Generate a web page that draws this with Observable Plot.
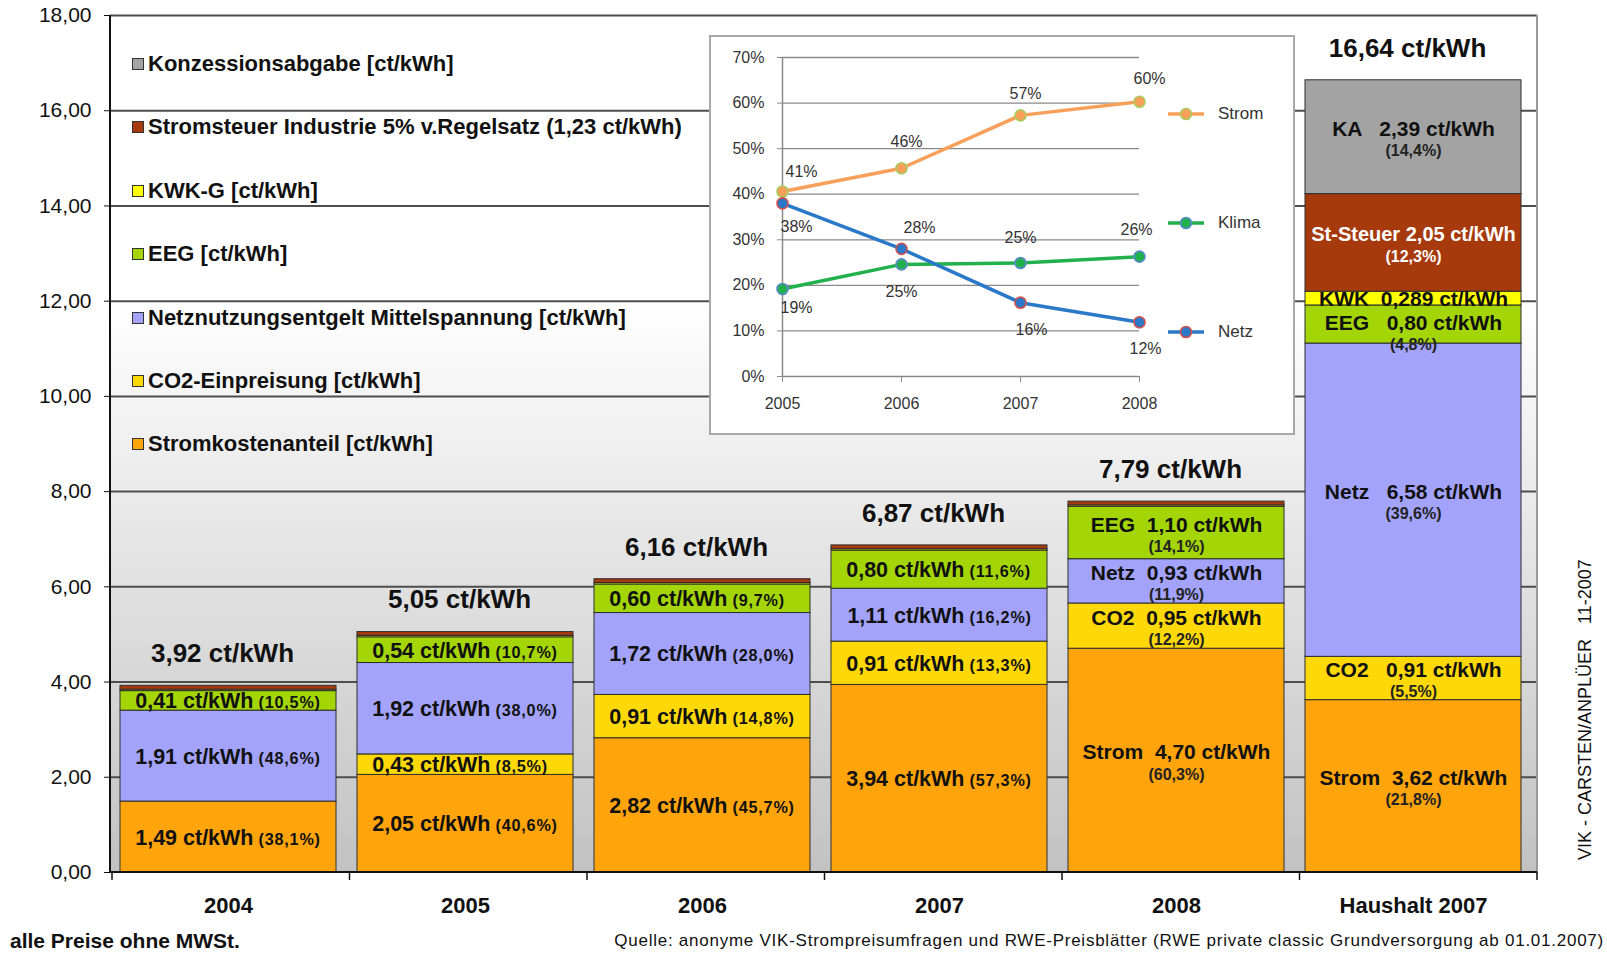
<!DOCTYPE html>
<html>
<head>
<meta charset="utf-8">
<script src="https://cdn.jsdelivr.net/npm/d3@7"></script>
<script src="https://cdn.jsdelivr.net/npm/@observablehq/plot@0.6"></script>
<style>
  body { margin: 0; background: #fff; font-family: "Liberation Sans", Arial, sans-serif; }
  #wrap { position: relative; width: 1607px; height: 954px; overflow: hidden; background: #fff; }
  #wrap svg text { white-space: pre; }
  #wrap svg g[font-size="16.2"] { letter-spacing: 0.8px; }
  .legend { position: absolute; left: 132px; top: 0; }
  .legend .row { position: absolute; left: 0; height: 24px; display: flex; align-items: center; white-space: nowrap;
    font-weight: bold; font-size: 22px; color: #111; }
  .legend .box { width: 10px; height: 10px; border: 1px solid #333; margin-right: 4px; }
  #inset { position: absolute; left: 709px; top: 35px; width: 586px; height: 400px; box-sizing: border-box;
    border: 2px solid #a9a9a9; background: #fff; }
  #inset .lg { position: absolute; display: flex; align-items: center; font-size: 17px; color: #333; }
  .cap { position: absolute; white-space: nowrap; color: #111; }
</style>
</head>
<body>
<div id="wrap"></div>
<script>
// ---------- data ----------
const categories = ["2004", "2005", "2006", "2007", "2008", "Haushalt 2007"];
const components = ["Strom", "CO2", "Netz", "EEG", "KWK", "Stromsteuer", "KA"];
const strom       = [1.49, 2.05, 2.82, 3.94, 4.70, 3.62];
const co2         = [0.00, 0.43, 0.91, 0.91, 0.95, 0.91];
const netz        = [1.91, 1.92, 1.72, 1.11, 0.93, 6.58];
const eeg         = [0.41, 0.54, 0.60, 0.80, 1.10, 0.80];
const kwk         = [0.03, 0.03, 0.03, 0.03, 0.03, 0.289];
const stromsteuer = [0.08, 0.08, 0.08, 0.08, 0.08, 2.05];
const ka          = [0.00, 0.00, 0.00, 0.00, 0.00, 2.39];
const totals      = [3.92, 5.05, 6.16, 6.87, 7.79, 16.64];
const shareStrom  = ["38,1%", "40,6%", "45,7%", "57,3%", "60,3%", "21,8%"];
const shareCo2    = [null, "8,5%", "14,8%", "13,3%", "12,2%", "5,5%"];
const shareNetz   = ["48,6%", "38,0%", "28,0%", "16,2%", "11,9%", "39,6%"];
const shareEeg    = ["10,5%", "10,7%", "9,7%", "11,6%", "14,1%", "4,8%"];
const shareKwk    = [null, null, null, null, null, null];
const shareStSt   = [null, null, null, null, null, "12,3%"];
const shareKa     = [null, null, null, null, null, "14,4%"];
const shortNames  = ["Strom", "CO2", "Netz", "EEG", "KWK", "St-Steuer", "KA"];
const legendLabels = [
  "Konzessionsabgabe [ct/kWh]",
  "Stromsteuer Industrie 5% v.Regelsatz (1,23 ct/kWh)",
  "KWK-G [ct/kWh]",
  "EEG [ct/kWh]",
  "Netznutzungsentgelt Mittelspannung [ct/kWh]",
  "CO2-Einpreisung [ct/kWh]",
  "Stromkostenanteil [ct/kWh]"
];
const yTicks = [0, 2, 4, 6, 8, 10, 12, 14, 16, 18];

const insetYears = [2005, 2006, 2007, 2008];
const insetStrom = [40.6, 45.7, 57.3, 60.3];
const insetKlima = [19.2, 24.6, 24.9, 26.3];
const insetNetz  = [38.0, 28.0, 16.2, 11.9];
const insetTicks = [0, 10, 20, 30, 40, 50, 60, 70];

// ---------- styles ----------
const colors = ["#FFA40B", "#FFD808", "#A3A3FC", "#A4D507", "#FFFF00", "#A63A0C", "#A3A3A3"];
const FONT = "Liberation Sans, Arial, sans-serif";
const fmtNum = v => v.toFixed(Math.round(v * 1000) % 10 ? 3 : 2).replace(".", ",");

// ---------- derived tables ----------
const series = {Strom: strom, CO2: co2, Netz: netz, EEG: eeg, KWK: kwk, Stromsteuer: stromsteuer, KA: ka};
const shares = {Strom: shareStrom, CO2: shareCo2, Netz: shareNetz, EEG: shareEeg, KWK: shareKwk, Stromsteuer: shareStSt, KA: shareKa};
const rows = [];
const segs = [];
categories.forEach((cat, i) => {
  let acc = 0;
  components.forEach((comp, j) => {
    const v = series[comp][i];
    if (v > 0) rows.push({cat, comp, value: v});
    segs.push({cat, i, comp, name: shortNames[j], value: v, mid: acc + v / 2, share: shares[comp][i]});
    acc += v;
  });
});
const labeled = segs.filter(d => d.value >= 0.25);
const single = labeled.filter(d => d.i < 4);
const double = labeled.filter(d => d.i >= 4);
const thin = d => d.value < 0.9;
const gap = d => d.comp === "Stromsteuer" ? " " : (d.i === 5 && d.comp !== "Strom" && d.comp !== "KWK" ? "   " : "  ");
const line1 = d => d.name + gap(d) + fmtNum(d.value) + " ct/kWh";
const totalRows = categories.map((cat, i) => ({cat, total: totals[i]}));

// ---------- custom render marks ----------
function background(index, scales, values, dims) {
  const g = d3.create("svg:g");
  const lg = g.append("defs").append("linearGradient").attr("id", "bgGrad")
    .attr("x1", 0).attr("y1", 0).attr("x2", 0).attr("y2", 1);
  lg.append("stop").attr("offset", "0").attr("stop-color", "#ffffff");
  lg.append("stop").attr("offset", "0.33").attr("stop-color", "#ffffff");
  lg.append("stop").attr("offset", "1").attr("stop-color", "#c2c2c2");
  g.append("rect")
    .attr("x", dims.marginLeft).attr("y", dims.marginTop)
    .attr("width", dims.width - dims.marginLeft - dims.marginRight)
    .attr("height", dims.height - dims.marginTop - dims.marginBottom)
    .attr("fill", "url(#bgGrad)");
  return g.node();
}
function frameDecor(index, scales, values, dims) {
  const g = d3.create("svg:g");
  const left = dims.marginLeft, right = dims.width - dims.marginRight;
  const top = dims.marginTop, bottom = dims.height - dims.marginBottom;
  const n = categories.length;
  const bounds = d3.range(n + 1).map(i => left + 2 + i * (right - left - 2) / n);
  g.append("line").attr("x1", right).attr("x2", right).attr("y1", top).attr("y2", bottom)
    .attr("stroke", "#9a9a9a").attr("stroke-width", 2);
  g.append("line").attr("x1", left).attr("x2", left).attr("y1", top).attr("y2", bottom + 1)
    .attr("stroke", "#111").attr("stroke-width", 2);
  g.append("line").attr("x1", left).attr("x2", right).attr("y1", bottom).attr("y2", bottom)
    .attr("stroke", "#111").attr("stroke-width", 2);
  bounds.forEach(b => g.append("line").attr("x1", b).attr("x2", b).attr("y1", bottom).attr("y2", bottom + 8)
    .attr("stroke", "#111").attr("stroke-width", 1.5));
  return g.node();
}

// ---------- main chart ----------
const main = Plot.plot({
  width: 1607, height: 925,
  marginTop: 15, marginBottom: 53, marginLeft: 110, marginRight: 70,
  x: {domain: categories, paddingInner: 0.09, paddingOuter: 0.045, align: 0.38, label: null},
  y: {domain: [0, 18], label: null},
  color: {domain: components, range: colors},
  style: {fontFamily: FONT, fontSize: "20px", color: "#111", background: "transparent", overflow: "visible"},
  marks: [
    background,
    Plot.gridY(yTicks.slice(1), {stroke: "#4e4e4e", strokeOpacity: 1, strokeWidth: 2}),
    Plot.barY(rows, {x: "cat", y: "value", fill: "comp", order: components, stroke: "#2e2e2e", strokeWidth: 1}),
    frameDecor,
    Plot.axisY(yTicks, {tickFormat: d => d.toFixed(2).replace(".", ","), tickSize: 6, tickPadding: 13,
      fontSize: 21, stroke: "#111"}),
    Plot.axisX({tickSize: 0, tickPadding: 25, fontSize: 22, fontWeight: "bold"}),
    // totals
    Plot.text(totalRows, {x: "cat", y: "total", text: d => fmtNum(d.total) + " ct/kWh", dx: -6, dy: -32,
      fontSize: 26, fontWeight: "bold", fill: "#111"}),
    // single-line segment labels
    Plot.text(single, {x: "cat", y: "mid", text: d => fmtNum(d.value) + " ct/kWh", textAnchor: "end",
      lineAnchor: "bottom", dx: 25, dy: 7.5, fontSize: 21.5, fontWeight: "bold", fill: "#111"}),
    Plot.text(single.filter(d => d.share), {x: "cat", y: "mid", text: d => "(" + d.share + ")", textAnchor: "start",
      lineAnchor: "bottom", dx: 30, dy: 7.5, fontSize: 16.2, fontWeight: "bold", fill: "#111"}),
    // two-line segment labels
    Plot.text(double.filter(d => d.share && d.comp !== "Stromsteuer" && !thin(d)), {x: "cat", y: "mid", text: line1,
      lineAnchor: "bottom", dy: -1.5, fontSize: 21, fontWeight: "bold", fill: "#111"}),
    Plot.text(double.filter(d => d.share && thin(d)), {x: "cat", y: "mid", text: line1,
      lineAnchor: "bottom", dy: 6, fontSize: 21, fontWeight: "bold", fill: "#111"}),
    Plot.text(double.filter(d => d.comp === "Stromsteuer"), {x: "cat", y: "mid", text: line1,
      lineAnchor: "bottom", dy: -1.5, fontSize: 20, fontWeight: "bold", fill: "#fff"}),
    Plot.text(double.filter(d => !d.share), {x: "cat", y: "mid", text: line1,
      lineAnchor: "bottom", dy: 7.5, fontSize: 21, fontWeight: "bold", fill: "#111"}),
    Plot.text(double.filter(d => d.share && d.comp !== "Stromsteuer" && !thin(d)), {x: "cat", y: "mid", text: d => "(" + d.share + ")",
      lineAnchor: "bottom", dy: 19, fontSize: 16, fontWeight: "bold", fill: "#222"}),
    Plot.text(double.filter(d => d.share && thin(d)), {x: "cat", y: "mid", text: d => "(" + d.share + ")",
      lineAnchor: "bottom", dy: 26, fontSize: 16, fontWeight: "bold", fill: "#222"}),
    Plot.text(double.filter(d => d.comp === "Stromsteuer"), {x: "cat", y: "mid", text: d => "(" + d.share + ")",
      lineAnchor: "bottom", dy: 19, fontSize: 16, fontWeight: "bold", fill: "#fff"})
  ]
});

const wrap = document.getElementById("wrap");
wrap.appendChild(main);

// ---------- legend (inside plot area) ----------
const legend = document.createElement("div");
legend.className = "legend";
const legendColors = components.slice().reverse().map(c => colors[components.indexOf(c)]);
legendLabels.forEach((label, i) => {
  const row = document.createElement("div");
  row.className = "row";
  row.style.top = (52 + i * 63.4) + "px";
  const box = document.createElement("span");
  box.className = "box";
  box.style.background = legendColors[i];
  row.appendChild(box);
  row.appendChild(document.createTextNode(label));
  legend.appendChild(row);
});
wrap.appendChild(legend);

// ---------- inset ----------
const insetSeries = [
  {name: "Strom", values: insetStrom, line: "#F8A05A", fill: "#F8A05A", ring: "#A9CB5E",
   offsets: [[19, -20], [5, -26], [5, -22], [10, -23]]},
  {name: "Klima", values: insetKlima, line: "#22B04C", fill: "#22B04C", ring: "#5B8BCB",
   offsets: [[14, 19], [0, 27], [0, -25], [-3, -27]]},
  {name: "Netz", values: insetNetz, line: "#2A78C8", fill: "#2A78C8", ring: "#D0504D",
   offsets: [[14, 24], [18, -21], [11, 27], [6, 27]]}
];
const insetMarks = [];
insetSeries.forEach(s => {
  const data = insetYears.map((year, i) => ({year, value: s.values[i]}));
  insetMarks.push(Plot.line(data, {x: "year", y: "value", stroke: s.line, strokeWidth: 3.5}));
});
insetSeries.forEach(s => {
  const data = insetYears.map((year, i) => ({year, value: s.values[i]}));
  insetMarks.push(Plot.dot(data, {x: "year", y: "value", r: 5.5, fill: s.fill, stroke: s.ring, strokeWidth: 1.6}));
  data.forEach((d, i) => insetMarks.push(
    Plot.text([d], {x: "year", y: "value", text: v => Math.round(v.value) + "%", dx: s.offsets[i][0], dy: s.offsets[i][1],
      fontSize: 16, fill: "#333"})));
});
const inset = Plot.plot({
  width: 582, height: 396,
  marginLeft: 71, marginRight: 154, marginTop: 20, marginBottom: 57,
  x: {domain: [insetYears[0], insetYears[insetYears.length - 1]], label: null},
  y: {domain: [0, 70], label: null},
  style: {fontFamily: FONT, fontSize: "16px", color: "#333", background: "transparent", overflow: "visible"},
  marks: [
    Plot.gridY(insetTicks.slice(1), {stroke: "#8a8a8a", strokeOpacity: 1, strokeWidth: 1.3}),
    Plot.ruleX([insetYears[0]], {y1: 0, y2: 70, stroke: "#8a8a8a", strokeWidth: 1.5}),
    Plot.ruleY([0], {stroke: "#8a8a8a", strokeWidth: 1.5}),
    Plot.axisY(insetTicks, {tickFormat: d => d + "%", tickSize: 5, tickPadding: 13, stroke: "#8a8a8a", fontSize: 16}),
    Plot.axisX(insetYears, {tickFormat: d => String(d), tickSize: 6, tickPadding: 15, stroke: "#8a8a8a", fontSize: 16}),
    ...insetMarks
  ]
});
const insetDiv = document.createElement("div");
insetDiv.id = "inset";
insetDiv.appendChild(inset);
insetSeries.forEach((s, i) => {
  const lg = document.createElement("div");
  lg.className = "lg";
  lg.style.left = "457px";
  lg.style.top = (66 + i * 109) + "px";
  lg.innerHTML = `<svg width="44" height="22" style="margin-right:6px"><line x1="0" x2="36" y1="11" y2="11" stroke="${s.line}" stroke-width="3.5"/><circle cx="18" cy="11" r="5.5" fill="${s.fill}" stroke="${s.ring}" stroke-width="1.6"/></svg>${s.name}`;
  insetDiv.appendChild(lg);
});
wrap.appendChild(insetDiv);

// ---------- captions ----------
const c1 = document.createElement("div");
c1.className = "cap";
c1.style.cssText = "left:10px;top:929px;font-size:21px;font-weight:bold;";
c1.textContent = "alle Preise ohne MWSt.";
wrap.appendChild(c1);
const c2 = document.createElement("div");
c2.className = "cap";
c2.style.cssText = "right:3px;top:931px;font-size:17px;letter-spacing:0.75px;";
c2.textContent = "Quelle: anonyme VIK-Strompreisumfragen und RWE-Preisblätter (RWE private classic Grundversorgung ab 01.01.2007)";
wrap.appendChild(c2);
const c3 = document.createElement("div");
c3.className = "cap";
c3.style.cssText = "left:1435px;top:700px;width:300px;text-align:center;font-size:18px;transform:rotate(-90deg);transform-origin:150px 10px;line-height:20px;white-space:pre;";
c3.textContent = "VIK - CARSTEN/ANPLÜER   11-2007";
wrap.appendChild(c3);
</script>
</body>
</html>
